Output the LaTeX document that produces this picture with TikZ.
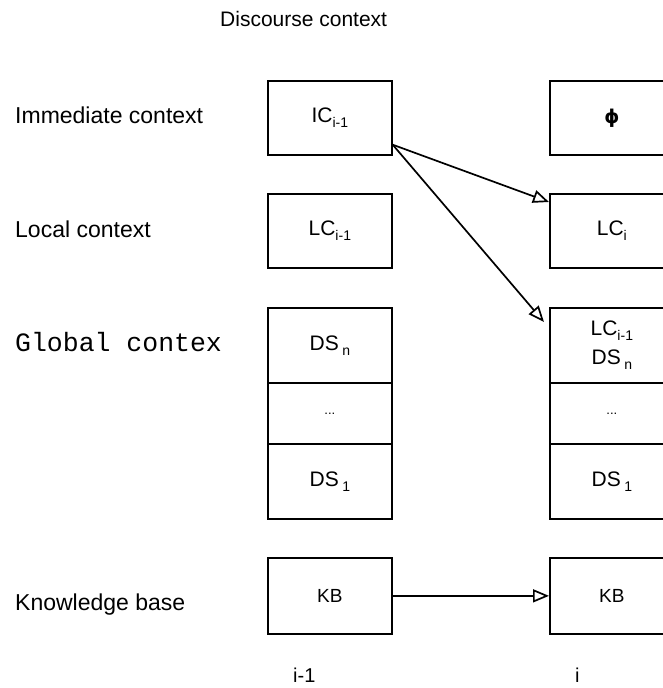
\documentclass[tikz,border=0pt]{standalone}
\usepackage{fontspec}
\setmainfont{Liberation Sans}
\newfontfamily\mymono{Liberation Mono}
\newfontfamily\mydjv{DejaVu Sans}
\usetikzlibrary{arrows.meta}
\newcommand{\lowsub}[1]{\raisebox{-0.45ex}{\fontsize{14}{14}\selectfont #1}}
\begin{document}
\begin{tikzpicture}[x=1pt,y=-1pt,
  box/.style={draw, line width=1.7pt, minimum width=124pt, minimum height=74pt,
    inner sep=0pt, anchor=north west, align=center, font=\fontsize{21}{24}\selectfont},
  lab/.style={inner sep=0pt, anchor=base west, font=\fontsize{23}{26}\selectfont},
  arr/.style={line width=1.7pt, -{Triangle[open, length=16pt, width=13pt, line width=1.7pt]}}]
\useasboundingbox (0,0) rectangle (663,688);
\clip (0,0) rectangle (663,688);
% titles and row labels
\node[lab, font=\fontsize{21}{24}\selectfont] (title) at (220,27) {Discourse context};
\node[lab] (limm) at (15,123) {Immediate context};
\node[lab] (lloc) at (15,237) {Local context};
\node[lab, font=\fontsize{26.5}{28}\mymono] (lglob) at (15,351) {Global contex};
\node[lab] (lkb) at (15,610) {Knowledge base};
\node[lab, font=\fontsize{20}{22}\selectfont] (colA) at (293,682) {i-1};
\node[lab, font=\fontsize{20}{22}\selectfont] (colB) at (575,682) {i};
% left column
\node[box] (ic) at (267,80) {IC\lowsub{i-1}};
\node[box] (lc) at (267,193) {LC\lowsub{i-1}};
\node[box, minimum height=75pt] (dsn) at (267,307) {DS\,\lowsub{n}};
\node[box, minimum height=61pt] (dots) at (267,382) {\fontsize{13}{13}\selectfont ...};
\node[box, minimum height=75pt] (ds1) at (267,443) {DS\,\lowsub{1}};
\node[box, minimum height=76pt] (kb) at (267,557) {\fontsize{19}{22}\selectfont KB};
% right column
\node[box] (phi) at (549,80) {{\mydjv\fontsize{19}{19}\selectfont\bfseries ϕ}};
\node[box] (lci) at (549,193) {LC\lowsub{i}};
\node[box, minimum height=75pt] (rdsn) at (549,307) {LC\lowsub{i-1}\\[5pt]DS\,\lowsub{n}};
\node[box, minimum height=61pt] (rdots) at (549,382) {\fontsize{13}{13}\selectfont ...};
\node[box, minimum height=75pt] (rds1) at (549,443) {DS\,\lowsub{1}};
\node[box, minimum height=76pt] (rkb) at (549,557) {\fontsize{19}{22}\selectfont KB};
% connectors
\coordinate (s) at ([yshift=11pt]ic.south east);
\coordinate (t1) at ([yshift=-9pt]lci.north west);
\coordinate (t2) at ([xshift=-5pt,yshift=-15pt]rdsn.north west);
\draw[arr] (s) -- (t1);
\draw[arr] (s) -- (t2);
\draw[arr] (kb.east) -- (rkb.west);
\end{tikzpicture}
\end{document}
